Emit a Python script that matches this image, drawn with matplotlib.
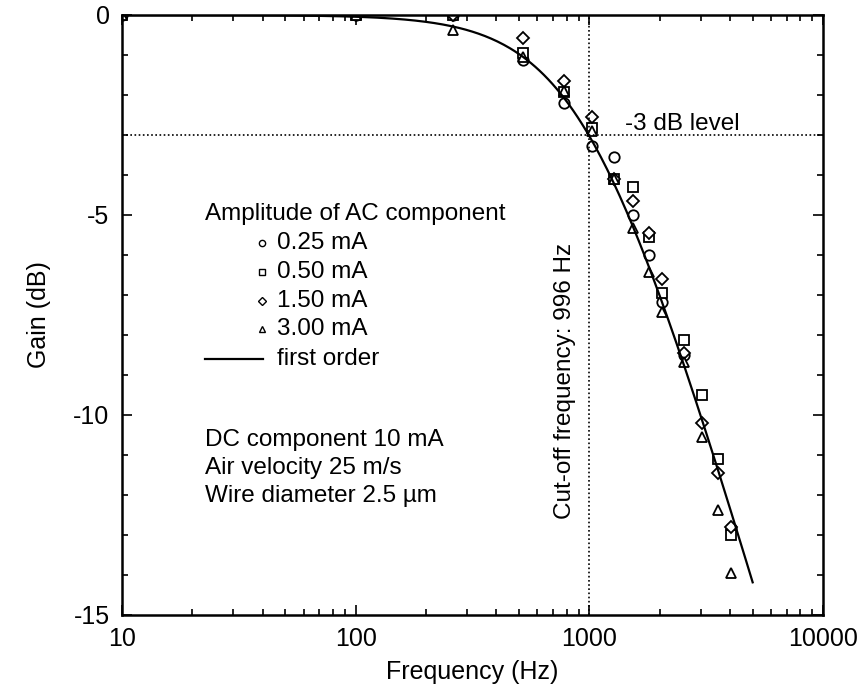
import numpy as np
import matplotlib
matplotlib.use('Agg')
import matplotlib.pyplot as plt
import matplotlib.ticker as ticker

plt.rcParams['font.family'] = ['Liberation Sans', 'DejaVu Sans']
plt.rcParams['axes.unicode_minus'] = False

# measured frequencies (Hz) and gains (dB) for each AC amplitude
freq = [10, 100, 260, 520, 780, 1030, 1280, 1540, 1800, 2050, 2550, 3050, 3550, 4050]
gain_025 = [0, 0, 0, -1.12, -2.2, -3.28, -3.55, -5.0, -6.0, -7.18, -8.5, np.nan, np.nan, -12.83]
gain_050 = [0, 0, 0, -0.95, -1.92, -2.83, -4.1, -4.3, -5.55, -6.95, -8.12, -9.5, -11.1, -13.0]
gain_150 = [0, 0, 0, -0.58, -1.64, -2.54, -4.1, -4.64, -5.45, -6.6, -8.45, -10.2, -11.44, -12.8]
gain_300 = [0, 0, -0.37, -1.05, -1.9, -2.9, -4.1, -5.33, -6.42, -7.43, -8.67, -10.55, -12.37, -13.95]

f_cut = 996
f_model = np.logspace(1, np.log10(5000), 300)
g_model = -10 * np.log10(1 + (f_model / f_cut) ** 2)

W, H = 863, 686
fig = plt.figure(figsize=(W / 100, H / 100), dpi=100)
ax = fig.add_axes([122 / W, 1 - 615 / H, 701 / W, 600 / H])

def axfrac(px, py):
    return (px - 122) / 701, (615 - py) / 600

mk = dict(ls='none', mfc='white', mec='black', mew=1.3, ms=7.5)
ax.plot(freq, gain_025, marker='o', **mk)
ax.plot(freq, gain_050, marker='s', **mk)
ax.plot(freq, gain_150, marker='D', **dict(mk, ms=6.5))
ax.plot(freq, gain_300, marker='^', **mk)
ax.plot(f_model, g_model, color='black', lw=1.6)

ax.axhline(-3, color='black', ls=(0, (1, 1.5)), lw=1.2)
ax.axvline(f_cut, color='black', ls=(0, (1, 1.5)), lw=1.2)

ax.set_xscale('log')
ax.set_xlim(10, 10000)
ax.set_ylim(-15, 0)
ax.xaxis.set_major_formatter(ticker.FuncFormatter(lambda v, p: '%d' % v))
ax.xaxis.set_minor_formatter(ticker.NullFormatter())
ax.yaxis.set_major_locator(ticker.MultipleLocator(5))
ax.yaxis.set_minor_locator(ticker.MultipleLocator(1))
ax.tick_params(which='both', direction='in', top=True, right=True, labelsize=18, width=1.2)
ax.tick_params(which='major', length=7, pad=9)
ax.tick_params(which='minor', length=4)
for s in ax.spines.values():
    s.set_linewidth(1.8)

ax.set_xlabel('Frequency (Hz)', fontsize=18, labelpad=6)
ax.set_ylabel('Gain (dB)', fontsize=18, labelpad=16)

tfs = 17.5
# annotations
ax.text(1426, -2.72, '-3 dB level', fontsize=tfs, va='center', ha='left')
ax.text(880, -5.7, 'Cut-off frequency: 996 Hz', fontsize=tfs, rotation=90,
        ha='right', va='top')

# hand-drawn legend block
x0, y0 = axfrac(205, 214)
ax.text(x0, y0, 'Amplitude of AC component', transform=ax.transAxes, fontsize=tfs, va='center')
labels = ['0.25 mA', '0.50 mA', '1.50 mA', '3.00 mA']
markers = ['o', 's', 'D', '^']
rows = [243, 272, 301, 329]
for lab, m, r in zip(labels, markers, rows):
    mx, my = axfrac(262, r)
    tx, _ = axfrac(277, r)
    ax.plot([mx], [my], marker=m, transform=ax.transAxes, ls='none',
            mfc='white', mec='black', mew=1.0, ms=4.5 if m != 'D' else 4)
    ax.text(tx, my, lab, transform=ax.transAxes, fontsize=tfs, va='center')
lx0, ly = axfrac(205, 359)
lx1, _ = axfrac(263, 359)
ax.plot([lx0, lx1], [ly, ly], color='black', lw=1.6, transform=ax.transAxes)
tx, _ = axfrac(277, 359)
ax.text(tx, ly, 'first order', transform=ax.transAxes, fontsize=tfs, va='center')

notes = ['DC component 10 mA', 'Air velocity 25 m/s', 'Wire diameter 2.5 \u00b5m']
for i, n in enumerate(notes):
    nx, ny = axfrac(205, 440 + 28 * i)
    ax.text(nx, ny, n, transform=ax.transAxes, fontsize=tfs, va='center')

fig.savefig('out.png', dpi=100)
